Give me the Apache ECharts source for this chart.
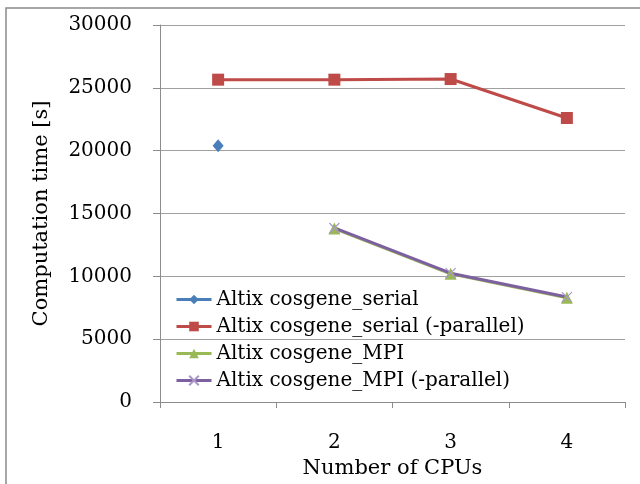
<!DOCTYPE html>
<html>
<head>
<meta charset="utf-8">
<script src="https://cdn.jsdelivr.net/npm/echarts@6/dist/echarts.min.js"></script>
<style>
html,body{margin:0;padding:0;background:#fff;}
#c{width:640px;height:484px;}
</style>
</head>
<body>
<div id="c"></div>
<script>
var categories = ['1', '2', '3', '4'];
var serial = [20400, null, null, null];
var serialParallel = [25650, 25650, 25700, 22600];
var mpi = [null, 13800, 10200, 8300];
var mpiParallel = [null, 13850, 10250, 8350];
var seriesNames = ['Altix cosgene_serial', 'Altix cosgene_serial (-parallel)', 'Altix cosgene_MPI', 'Altix cosgene_MPI (-parallel)'];
var yTicks = {min: 0, max: 30000, interval: 5000};

var FONT = 'DejaVu Serif';
var chart = echarts.init(document.getElementById('c'));
var crossPath = 'path://M0,0L10,10M10,0L0,10';
chart.setOption({
  animation: false,
  backgroundColor: '#fff',
  textStyle: {fontFamily: FONT},
  graphic: [{
    type: 'rect', z: -10,
    shape: {x: 6, y: 8, width: 700, height: 600},
    style: {fill: 'none', stroke: '#8a8a8a', lineWidth: 1.5}
  }],
  grid: {left: 160, right: 15, top: 25, bottom: 82},
  legend: {
    orient: 'vertical', left: 170, top: 284,
    itemWidth: 35, itemHeight: 12, itemGap: 6,
    lineStyle: {width: 3},
    textStyle: {fontFamily: FONT, fontSize: 20, color: '#000', lineHeight: 21},
    data: seriesNames
  },
  xAxis: {
    type: 'category', data: categories,
    name: 'Number of CPUs', nameLocation: 'middle', nameGap: 54,
    nameTextStyle: {fontFamily: FONT, fontSize: 21, color: '#000'},
    axisLine: {lineStyle: {color: '#8c8c8c', width: 1}},
    axisTick: {show: true, length: 6, lineStyle: {color: '#8c8c8c'}},
    axisLabel: {margin: 31, fontFamily: FONT, fontSize: 20, color: '#000'}
  },
  yAxis: {
    type: 'value', min: yTicks.min, max: yTicks.max, interval: yTicks.interval,
    name: 'Computation time [s]', nameLocation: 'middle', nameGap: 108,
    nameTextStyle: {fontFamily: FONT, fontSize: 21, color: '#000'},
    axisLine: {show: true, lineStyle: {color: '#8c8c8c', width: 1}},
    axisTick: {show: true, length: 7, lineStyle: {color: '#8c8c8c'}},
    axisLabel: {margin: 28, fontFamily: FONT, fontSize: 20, color: '#000',
      formatter: function (v) { return String(v); }},
    splitLine: {lineStyle: {color: '#a0a0a0', width: 1}}
  },
  series: [
    {name: seriesNames[0], type: 'line', data: serial, connectNulls: false,
     symbol: 'diamond', symbolSize: [11, 13],
     itemStyle: {color: '#4A7EBB'}, lineStyle: {color: '#4A7EBB', width: 3}},
    {name: seriesNames[1], type: 'line', data: serialParallel,
     symbol: 'rect', symbolSize: 12,
     itemStyle: {color: '#BE4B48'}, lineStyle: {color: '#BE4B48', width: 3}},
    {name: seriesNames[2], type: 'line', data: mpi,
     symbol: 'triangle', symbolSize: 12,
     itemStyle: {color: '#98B954'}, lineStyle: {color: '#98B954', width: 3}},
    {name: seriesNames[3], type: 'line', data: mpiParallel,
     symbol: crossPath, symbolSize: 10,
     itemStyle: {color: '#7D60A0', borderColor: '#A995C8', borderWidth: 1.2},
     lineStyle: {color: '#7D60A0', width: 3}}
  ]
});
</script>
</body>
</html>
